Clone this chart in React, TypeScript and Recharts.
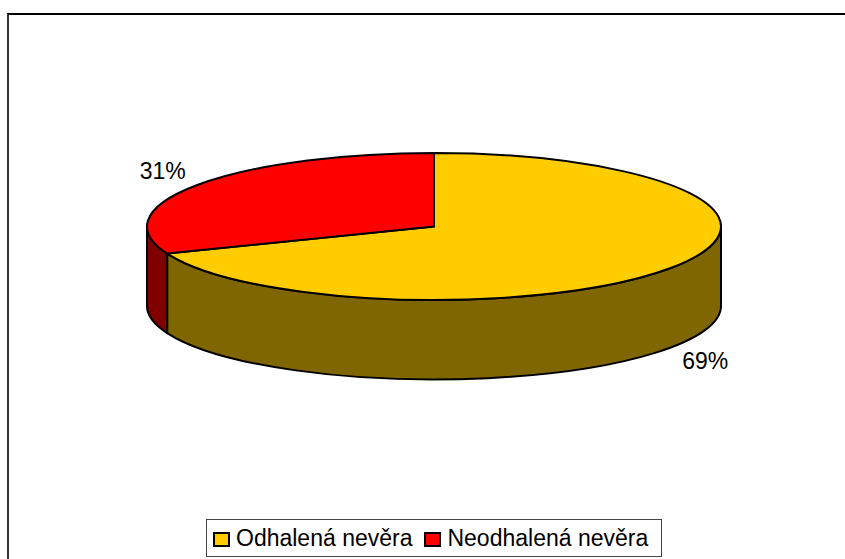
import React from "react";
import { Legend, Pie, PieChart } from "recharts";

const categories = ["Odhalená nevěra", "Neodhalená nevěra"];
const values = [69, 31];
const topColors = ["#FFCC00", "#FF0000"];
const sideColors = ["#806600", "#800000"];

const data = categories.map((name, i) => ({ name, value: values[i], fill: topColors[i] }));

// perspective of the pseudo-3D pie
const TILT = 0.256;
const DEPTH = 79.5;
const RAD = Math.PI / 180;
const FONT = "'Liberation Sans', Arial, sans-serif";

function pt(cx: number, cy: number, r: number, a: number, dy = 0) {
  return `${cx + r * Math.cos(-a * RAD)},${cy + r * TILT * Math.sin(-a * RAD) + dy}`;
}

function Slice3D(props: any) {
  const { cx, cy, outerRadius: r, startAngle, endAngle } = props;
  const name = props.name ?? props.payload?.name;
  const i = Math.max(0, categories.indexOf(name));
  const ry = r * TILT;
  const lo = Math.min(startAngle, endAngle);
  const hi = Math.max(startAngle, endAngle);

  // outer wall visible on the front half only
  const walls: string[] = [];
  for (let n = -3; n <= 2; n++) {
    const a1 = Math.max(lo, 180 + 360 * n);
    const a2 = Math.min(hi, 360 + 360 * n);
    if (a2 > a1) {
      walls.push(
        `M${pt(cx, cy, r, a1)} A${r},${ry} 0 0 0 ${pt(cx, cy, r, a2)} L${pt(cx, cy, r, a2, DEPTH)} A${r},${ry} 0 0 1 ${pt(cx, cy, r, a1, DEPTH)} Z`
      );
    }
  }

  const large = hi - lo > 180 ? 1 : 0;
  const sweep = endAngle < startAngle ? 1 : 0;
  const top = `M${cx},${cy} L${pt(cx, cy, r, startAngle)} A${r},${ry} 0 ${large} ${sweep} ${pt(cx, cy, r, endAngle)} Z`;

  return (
    <g>
      {walls.map((d, k) => (
        <path key={k} d={d} fill={sideColors[i]} stroke="#000" strokeWidth={2} strokeLinejoin="round" />
      ))}
      <path d={top} fill={topColors[i]} stroke="#000" strokeWidth={2} strokeLinejoin="round" />
    </g>
  );
}

function renderLabel(props: any) {
  const { cx, cy, midAngle, outerRadius, percent } = props;
  const s = Math.sin(-midAngle * RAD);
  const x = cx + (outerRadius + 41) * Math.cos(-midAngle * RAD);
  const y = cy + (outerRadius * TILT + 25) * s + (s > 0 ? DEPTH : 0);
  return (
    <text x={x} y={y} textAnchor="middle" dominantBaseline="central" fill="#000" fontSize={23} fontFamily={FONT}>
      {`${Math.round(percent * 100)}%`}
    </text>
  );
}

function LegendBox() {
  return (
    <div
      style={{
        boxSizing: "border-box",
        width: 456,
        height: 38,
        border: "1.5px solid #444",
        background: "#fff",
        display: "flex",
        alignItems: "center",
        paddingLeft: 6,
        fontFamily: FONT,
        fontSize: 23,
        color: "#000",
        whiteSpace: "nowrap",
      }}
    >
      {categories.map((c, i) => (
        <span key={c} style={{ display: "flex", alignItems: "center", marginRight: 12 }}>
          <span
            style={{
              boxSizing: "border-box",
              width: 17,
              height: 15,
              border: "2px solid #000",
              background: topColors[i],
              marginRight: 6,
              marginTop: 2,
            }}
          />
          {c}
        </span>
      ))}
    </div>
  );
}

export default function App() {
  return (
    <div>
      <div
        style={{
          position: "absolute",
          left: 7,
          top: 13,
          width: 838,
          height: 546,
          boxSizing: "border-box",
          borderTop: "2px solid #000",
          borderLeft: "2px solid #333",
        }}
      />
      <div style={{ position: "absolute", left: 0, top: 0, width: 845, height: 559 }}>
        <PieChart width={845} height={559} margin={{ top: 0, right: 0, bottom: 0, left: 0 }}>
          <Pie
            data={data}
            dataKey="value"
            nameKey="name"
            cx={434}
            cy={226.5}
            outerRadius={287}
            startAngle={90}
            endAngle={-270}
            shape={Slice3D}
            activeShape={Slice3D}
            inactiveShape={Slice3D}
            label={renderLabel}
            labelLine={false}
            isAnimationActive={false}
          />
          <Legend
            verticalAlign="bottom"
            wrapperStyle={{ left: 206, top: 519, bottom: "auto", width: 456, height: 38 }}
            content={() => <LegendBox />}
          />
        </PieChart>
      </div>
    </div>
  );
}
